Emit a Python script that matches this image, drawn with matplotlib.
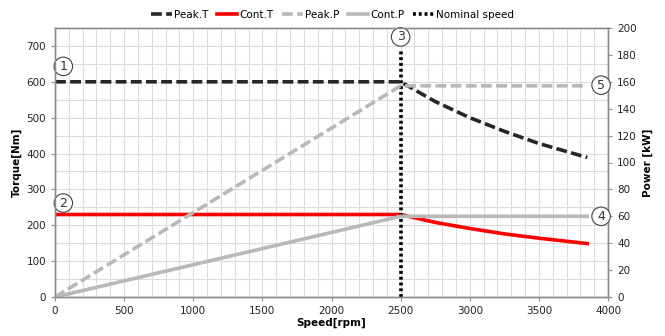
import matplotlib
matplotlib.use("Agg")
import matplotlib.pyplot as plt
from matplotlib.ticker import MultipleLocator

plt.rcParams['font.family'] = ['DejaVu Sans']

speed = [0, 2500, 2750, 3000, 3250, 3500, 3850]
peak_t = [600, 600, 545, 500, 462, 428, 389]
cont_t = [230, 230, 208, 191, 176, 164, 149]
peak_p = [0, 157, 157, 157, 157, 157, 157]
cont_p = [0, 60, 60, 60, 60, 60, 60]
nominal_speed = 2500
nominal_top = 690

fig = plt.figure(figsize=(6.65, 3.36), dpi=100)
ax = fig.add_axes([55/665, 1-297/336, (608-55)/665, (297-28)/336])
ax2 = ax.twinx()

ax.set_xlim(0, 4000)
ax.set_ylim(0, 750)
ax2.set_ylim(0, 200)
ax.xaxis.set_major_locator(MultipleLocator(500))
ax.xaxis.set_minor_locator(MultipleLocator(100))
ax.yaxis.set_major_locator(MultipleLocator(100))
ax.yaxis.set_minor_locator(MultipleLocator(50))
ax2.yaxis.set_major_locator(MultipleLocator(20))

ax.grid(which='both', color='#dcdcdc', linewidth=0.8)
ax.set_axisbelow(True)
ax.tick_params(which='minor', length=0)

for a in (ax, ax2):
    for s in a.spines.values():
        s.set_color('#8c8c8c')
        s.set_linewidth(1.0)
    a.tick_params(which='major', labelsize=7.5, colors='#8c8c8c', labelcolor='#222222', length=3)

lw = 2.6
l1, = ax.plot(speed, peak_t, color='#262626', lw=lw, ls=(0, (3, 1.2)), label='Peak.T')
l2, = ax.plot(speed, cont_t, color='#ff0000', lw=lw, label='Cont.T')
l3, = ax2.plot(speed, peak_p, color='#b8b8b8', lw=lw, ls=(0, (3, 1.2)), label='Peak.P')
l4, = ax2.plot(speed, cont_p, color='#b8b8b8', lw=lw, label='Cont.P')
l5, = ax.plot([nominal_speed, nominal_speed], [0, nominal_top], color='black', lw=2.6,
              ls=(0, (0.8, 0.8)), label='Nominal speed')

ax.set_xlabel('Speed[rpm]', fontsize=7.5, fontweight='bold', labelpad=1)
ax.set_ylabel('Torque[Nm]', fontsize=7.5, fontweight='bold', labelpad=3)
ax2.set_ylabel('Power [kW]', fontsize=7.5, fontweight='bold', labelpad=4)

circ = dict(boxstyle='circle,pad=0.22', fc='white', ec='#444444', lw=0.8)
def mark(a, x, y, t):
    a.text(x, y, t, fontsize=9, ha='center', va='center', bbox=circ, color='#333333', zorder=10)

mark(ax, 60, 643, '1')
mark(ax, 60, 262, '2')
mark(ax, 2500, 725, '3')
mark(ax2, 3950, 60, '4')
mark(ax2, 3950, 157.5, '5')

fig.legend(handles=[l1, l2, l3, l4, l5], loc='center', bbox_to_anchor=(0.5, 15/336 + 1 - 30/336),
           ncol=5, frameon=False, fontsize=7.5, handlelength=2.0, handletextpad=0.2,
           columnspacing=0.8)

fig.savefig('out.png', dpi=100)
